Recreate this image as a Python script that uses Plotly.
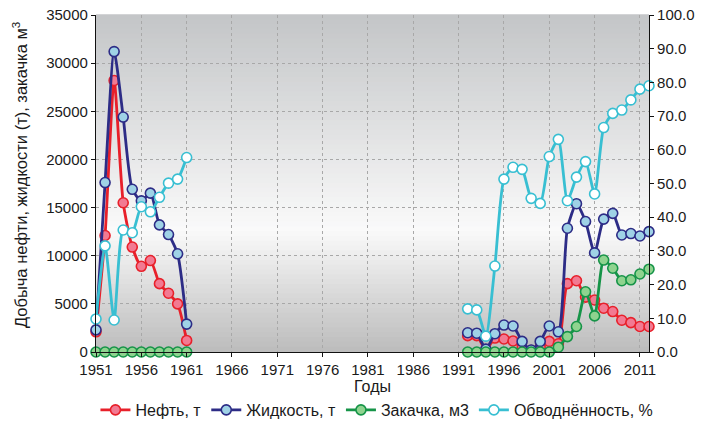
import plotly.graph_objects as go

# Years of the two production periods
years_early = list(range(1951, 1962))
years_late = list(range(1992, 2013))

# Oil production, t
oil_early = [2100, 12100, 28200, 15500, 10900, 8900, 9500, 7100, 6100, 5000, 1200]
oil_late = [1700, 1700, 200, 1450, 1350, 1150, 400, 150, 500, 1100, 850,
            7100, 7400, 5700, 5400, 4550, 4200, 3300, 3050, 2650, 2650]

# Liquid production, t
liquid_early = [2300, 17600, 31200, 24400, 16900, 15700, 16500, 13200, 12200, 10200, 2900]
liquid_late = [2000, 1950, 300, 1900, 2800, 2700, 1100, 200, 1100, 2700, 2100,
               12850, 15400, 13550, 10300, 13800, 14400, 12150, 12300, 12050, 12500]

# Water injection, m3
inj_early = [0] * 11
inj_late = [0, 0, 0, 0, 0, 0, 0, 0, 0, 0, 500,
            1600, 2650, 6250, 3750, 9550, 8700, 7400, 7500, 8100, 8600]

# Water cut, %
wcut_early = [9.8, 31.5, 9.5, 36.2, 35.4, 43.1, 41.6, 45.9, 50.1, 51.3, 57.7]
wcut_late = [12.8, 12.5, 4.7, 25.5, 51.3, 54.8, 54.2, 45.6, 44.1, 58.0, 63.1,
             44.9, 51.9, 56.5, 46.9, 66.6, 70.8, 71.8, 74.8, 78.0, 79.0]

x_years = years_early + [None] + years_late


def joined(a, b):
    return a + [None] + b


series = [
    ("Нефть, т", joined(oil_early, oil_late), "y", "#e8202a", "#f27a92"),
    ("Жидкость, т", joined(liquid_early, liquid_late), "y", "#2d2c86", "#9fd2e6"),
    ("Закачка, м3", joined(inj_early, inj_late), "y", "#169448", "#8fd38f"),
    ("Обводнённость, %", joined(wcut_early, wcut_late), "y2", "#38bfd2", "#ffffff"),
]

fig = go.Figure()
for name, vals, yax, line_c, fill_c in series:
    fig.add_trace(go.Scatter(
        x=x_years, y=vals, name=name, yaxis=yax,
        mode="lines+markers", connectgaps=False, cliponaxis=False,
        line=dict(color=line_c, width=2.8, shape="spline", smoothing=0.6),
        marker=dict(size=10, color=fill_c, line=dict(color=line_c, width=1.6)),
    ))

# Vertical grey gradient behind the plotting area
stops = [(0.0, (195, 197, 199)), (0.64, (250, 250, 250)), (1.0, (188, 188, 188))]


def grad(t):
    for (t0, c0), (t1, c1) in zip(stops[:-1], stops[1:]):
        if t0 <= t <= t1:
            f = (t - t0) / (t1 - t0)
            return tuple(round(a + (b - a) * f) for a, b in zip(c0, c1))
    return stops[-1][1]


n = 70
shapes = []
for i in range(n):
    t = (i + 0.5) / n
    r, g, b = grad(t)
    shapes.append(dict(
        type="rect", xref="x domain", yref="y domain",
        x0=0, x1=1, y0=1 - (i + 1) / n - 0.002, y1=1 - i / n + 0.002,
        fillcolor=f"rgb({r},{g},{b})", line=dict(width=0), layer="below",
    ))

axis_common = dict(showline=True, linecolor="#111", linewidth=1.2,
                   ticks="outside", ticklen=4, tickcolor="#111",
                   zeroline=False, automargin=True)

font_family = "Liberation Sans, Arial, sans-serif"
fig.update_layout(
    width=701, height=422,
    margin=dict(l=96, r=52, t=15, b=70, autoexpand=False),
    paper_bgcolor="white", plot_bgcolor="rgba(0,0,0,0)",
    font=dict(family=font_family, size=15, color="#1a1a1a"),
    shapes=shapes,
    showlegend=True,
    legend=dict(orientation="h", x=-0.001, xanchor="left", y=-0.172, yanchor="middle",
                font=dict(size=16), itemwidth=30, tracegroupgap=0,
                bgcolor="rgba(0,0,0,0)"),
    xaxis=dict(range=[1951, 2012], tick0=1951, dtick=5,
               showgrid=True, gridcolor="#a8a8a8", griddash="dot", gridwidth=1,
               title=dict(text="Годы", font=dict(size=16), standoff=2),
               **axis_common),
    yaxis=dict(range=[0, 35000], dtick=5000, tickformat="d",
               showgrid=True, gridcolor="#a8a8a8", griddash="dot", gridwidth=1,
               **axis_common),
    yaxis2=dict(range=[0, 100], dtick=10, overlaying="y", side="right",
                showgrid=False, tickformat=".1f", **axis_common),
)

# Left axis caption
fig.add_annotation(text="Добыча нефти, жидкости (т), закачка м<sup>3</sup>",
                   xref="paper", yref="paper", x=0.0, xshift=-76, y=0.525,
                   xanchor="center", yanchor="middle", textangle=-90,
                   showarrow=False, font=dict(size=16.5))

# Right-hand axis caption running past the page edge
fig.add_annotation(text="Обводнённость, %", xref="paper", yref="paper",
                   x=1.0, xshift=142, y=0.585, xanchor="center", yanchor="middle",
                   textangle=-90, showarrow=False, font=dict(size=16))

fig.write_html("out.html")
